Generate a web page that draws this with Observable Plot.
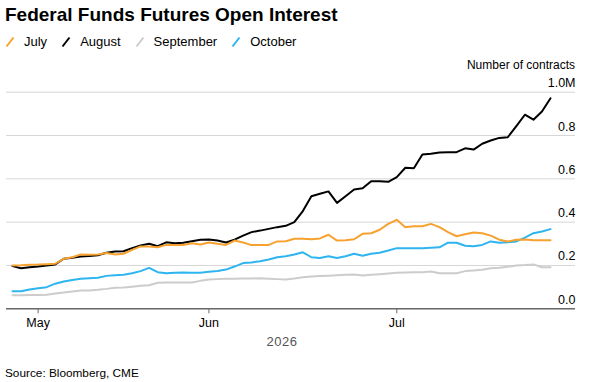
<!DOCTYPE html>
<html>
<head>
<meta charset="utf-8">
<script src="https://cdn.jsdelivr.net/npm/d3@7"></script>
<script src="https://cdn.jsdelivr.net/npm/@observablehq/plot@0.6"></script>
<style>
  html, body { margin: 0; padding: 0; background: #fff; }
  body { width: 592px; height: 382px; position: relative; overflow: hidden; font-family: "Liberation Sans", Arial, sans-serif; color: #000; }
  #title { position: absolute; left: 5px; top: 4px; font-size: 19px; font-weight: bold; letter-spacing: 0px; white-space: nowrap; }
  #legend { position: absolute; left: 5px; top: 34px; font-size: 13px; display: flex; align-items: center; white-space: nowrap; }
  #legend .item { display: flex; align-items: center; margin-right: 14px; }
  #legend svg { margin-right: 9px; }
  #unit { position: absolute; right: 17px; top: 58px; font-size: 12px; white-space: nowrap; }
  #year { position: absolute; left: 282px; top: 334px; transform: translateX(-50%); font-size: 13px; color: #555; letter-spacing: 0.5px; }
  #source { position: absolute; left: 5px; top: 366px; font-size: 11.8px; white-space: nowrap; }
  #chart { position: absolute; left: 0; top: 50px; }
</style>
</head>
<body>
<div id="title">Federal Funds Futures Open Interest</div>
<div id="legend"></div>
<div id="unit">Number of contracts</div>
<div id="chart"></div>
<div id="year">2026</div>
<div id="source">Source: Bloomberg, CME</div>
<script>
// Series (millions of contracts), one value per trading day
const seriesNames = ["July", "August", "September", "October"];
const seriesColors = ["#f7a12f", "#000000", "#cccccc", "#2eb5ef"];

const july = [0.200,0.201,0.203,0.204,0.206,0.208,0.231,0.238,0.251,0.249,
  0.251,0.258,0.251,0.254,0.272,0.288,0.288,0.284,0.295,0.294,
  0.295,0.303,0.297,0.306,0.300,0.295,0.315,0.306,0.294,0.294,
  0.295,0.311,0.312,0.323,0.323,0.321,0.325,0.342,0.315,0.317,
  0.321,0.346,0.349,0.365,0.392,0.411,0.377,0.381,0.381,0.392,
  0.377,0.354,0.335,0.344,0.352,0.349,0.338,0.319,0.311,0.319,
  0.320,0.317,0.317,0.317];

const august = [0.197,0.187,0.192,0.195,0.200,0.205,0.231,0.236,0.241,0.244,
  0.247,0.259,0.265,0.266,0.280,0.292,0.300,0.289,0.307,0.303,
  0.305,0.312,0.319,0.320,0.315,0.306,0.319,0.338,0.354,0.361,
  0.369,0.377,0.383,0.400,0.451,0.520,0.531,0.542,0.489,0.520,
  0.551,0.557,0.589,0.589,0.586,0.608,0.651,0.649,0.712,0.716,
  0.722,0.723,0.723,0.741,0.735,0.762,0.777,0.789,0.792,0.843,
  0.896,0.873,0.911,0.972];

const september = [0.063,0.063,0.064,0.064,0.065,0.071,0.075,0.080,0.084,0.085,
  0.088,0.092,0.097,0.098,0.102,0.106,0.109,0.120,0.121,0.121,
  0.121,0.121,0.129,0.135,0.137,0.139,0.139,0.140,0.140,0.141,
  0.139,0.137,0.135,0.140,0.146,0.149,0.151,0.153,0.155,0.157,
  0.158,0.154,0.157,0.160,0.163,0.166,0.168,0.169,0.169,0.172,
  0.164,0.164,0.164,0.174,0.177,0.180,0.187,0.190,0.194,0.200,
  0.202,0.205,0.192,0.192];

const october = [0.081,0.081,0.089,0.095,0.100,0.116,0.126,0.133,0.139,0.141,
  0.143,0.152,0.155,0.157,0.164,0.174,0.189,0.169,0.164,0.166,
  0.168,0.166,0.166,0.171,0.175,0.181,0.195,0.211,0.214,0.220,
  0.228,0.238,0.243,0.251,0.261,0.238,0.235,0.243,0.235,0.243,
  0.254,0.245,0.254,0.259,0.269,0.280,0.280,0.280,0.280,0.282,
  0.284,0.305,0.305,0.291,0.289,0.295,0.311,0.305,0.307,0.311,
  0.329,0.349,0.357,0.368];

// Axis ticks (x = trading-day index)
const monthTicks = [3, 23, 45];
const monthLabels = ["May", "Jun", "Jul"];
const yTicks = [0, 0.2, 0.4, 0.6, 0.8, 1.0];
const yTickLabels = ["0.0", "0.2", "0.4", "0.6", "0.8", "1.0M"];

const allSeries = [july, august, september, october];
const rows = [];
allSeries.forEach((vals, s) => vals.forEach((v, i) => rows.push({series: seriesNames[s], i, v})));
const drawOrder = ["August", "September", "October", "July"];

// Legend
const legend = document.getElementById("legend");
seriesNames.forEach((name, s) => {
  const item = document.createElement("div");
  item.className = "item";
  item.innerHTML = `<svg width="10" height="12"><line x1="1.5" y1="10.5" x2="8.5" y2="1.5" stroke="${seriesColors[s]}" stroke-width="2"/></svg><span>${name}</span>`;
  legend.appendChild(item);
});

const color = {domain: seriesNames, range: seriesColors};

const chart = Plot.plot({
  width: 592,
  height: 305,
  marginLeft: 6,
  marginRight: 17,
  marginTop: 41.7,
  marginBottom: 46.7,
  style: {fontFamily: "'Liberation Sans', Arial, sans-serif", fontSize: "12.5px", color: "#000", background: "transparent"},
  x: {domain: [0, 63], range: [12, 550]},
  y: {domain: [0, 1]},
  color,
  marks: [
    Plot.gridY(yTicks, {stroke: "#d6d6d6", strokeOpacity: 1, strokeWidth: 1}),
    Plot.axisY(yTicks, {anchor: "right", tickSize: 0, tickPadding: 0, textAnchor: "end", dy: -9, tickFormat: (d, k) => yTickLabels[k], label: null, fill: "#000"}),
    ...drawOrder.map(name => Plot.line(rows.filter(r => r.series === name), {
      x: "i", y: "v", stroke: "series", strokeWidth: 2, strokeLinejoin: "round", strokeLinecap: "round"
    })),
    Plot.ruleY([0], {stroke: "#6b6b6b", strokeWidth: 1.5}),
    Plot.axisX(monthTicks, {tickSize: 5, tickPadding: 4, tickFormat: (d, k) => monthLabels[k], label: null, stroke: "#6b6b6b", fill: "#000"})
  ]
});
document.getElementById("chart").appendChild(chart);
</script>
</body>
</html>
